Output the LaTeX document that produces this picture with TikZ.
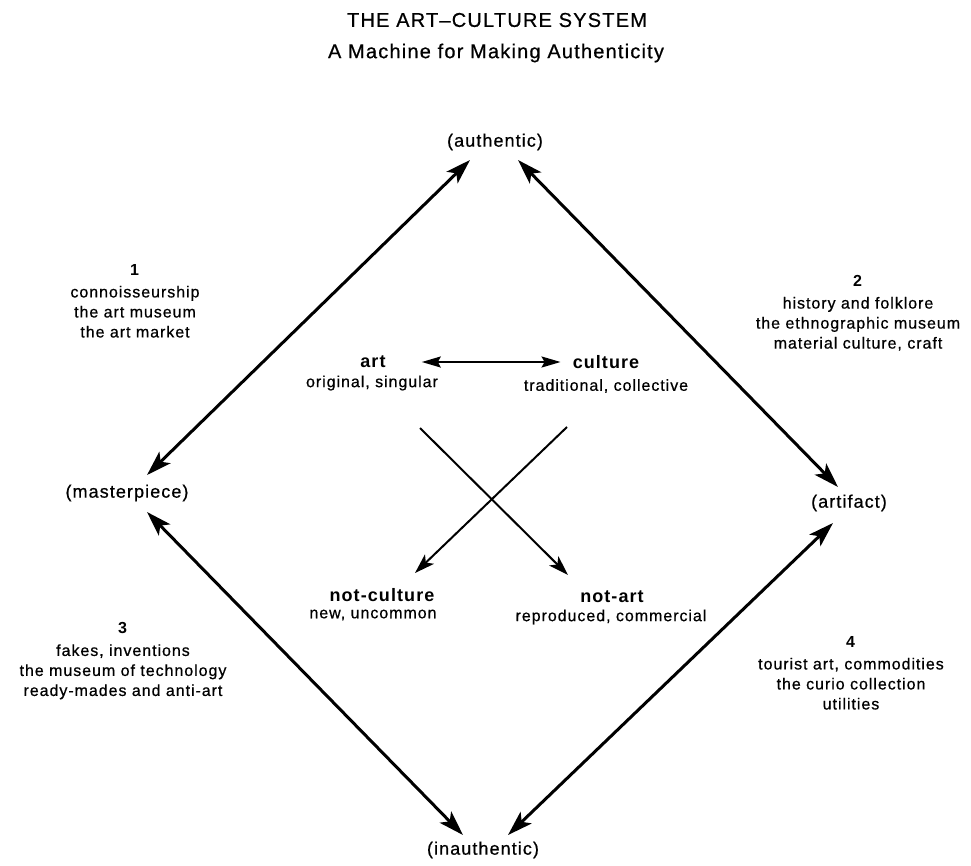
\documentclass[tikz,border=0pt]{standalone}
\usepackage{fontspec}
\setmainfont{Liberation Sans}[LetterSpace=6, UprightFeatures={FakeBold=0.6}]
\usetikzlibrary{arrows.meta,calc}
\begin{document}
\begin{tikzpicture}[x=1pt,y=-1pt,
  ttl/.style={font=\fontsize{20}{24}\selectfont, inner sep=0pt},
  corner/.style={font=\fontsize{18}{22}\selectfont, inner sep=0pt},
  quad/.style={font=\fontsize{16}{20}\selectfont, align=center, inner sep=0pt},
  pole/.style={font=\fontsize{18}{22}\selectfont\bfseries, inner sep=0pt},
  polesub/.style={font=\fontsize{16}{20}\selectfont, inner sep=0pt},
  bigarrow/.style={line width=3pt,
    {Stealth[length=25pt,width=16pt,inset=6pt]}-{Stealth[length=25pt,width=16pt,inset=6pt]}},
  crossarrow/.style={line width=2pt, -{Stealth[length=20pt,width=13pt,inset=5pt]}},
  midarrow/.style={line width=2pt,
    {Stealth[length=19pt,width=11pt,inset=3pt]}-{Stealth[length=19pt,width=11pt,inset=3pt]}}
]
\useasboundingbox (0,0) rectangle (971,865);
\fill[white] (0,0) rectangle (971,865);

% titles
\node[ttl] (title) at (497,20) {THE ART–CULTURE SYSTEM};
\node[ttl] (subtitle) at (496,53) {A Machine for Making Authenticity};

% corners
\node[corner] (authentic) at (495,142) {(authentic)};
\node[corner] (masterpiece) at (127,493) {(masterpiece)};
\node[corner] (artifact) at (849,503) {(artifact)};
\node[corner] (inauthentic) at (483,850) {(inauthentic)};

% quadrant labels
\node[quad] (q1) at (135,301) {\textbf{1}\\[2pt]connoisseurship\\the art museum\\the art market};
\node[quad] (q2) at (858,313) {\textbf{2}\\[2pt]history and folklore\\the ethnographic museum\\material culture, craft};
\node[quad] (q3) at (123,661) {\textbf{3}\\[2pt]fakes, inventions\\the museum of technology\\ready-mades and anti-art};
\node[quad] (q4) at (851,673) {\textbf{4}\\[2pt]tourist art, commodities\\the curio collection\\utilities};

% poles
\node[pole] (art) at (373,362) {art};
\node[polesub] (artsub) at (372,383) {original, singular};
\node[pole] (culture) at (606,362) {culture};
\node[polesub] (culturesub) at (606,386) {traditional, collective};
\node[pole] (notculture) at (382,595) {not-culture};
\node[polesub] (notculturesub) at (373,615) {new, uncommon};
\node[pole] (notart) at (612,597) {not-art};
\node[polesub] (notartsub) at (611,617) {reproduced, commercial};

% arrow end points tied to the nodes
\coordinate (aL) at ($(authentic)+(-25,18)$);
\coordinate (aR) at ($(authentic)+(23,18)$);
\coordinate (mU) at ($(masterpiece)+(20,-18)$);
\coordinate (mD) at ($(masterpiece)+(20,19)$);
\coordinate (fU) at ($(artifact)+(-11,-16)$);
\coordinate (fD) at ($(artifact)+(-16,20)$);
\coordinate (iL) at ($(inauthentic)+(-20,-15)$);
\coordinate (iR) at ($(inauthentic)+(25,-15)$);
\coordinate (naTip) at ($(notart)+(-44,-22)$);
\coordinate (ncTip) at ($(notculture)+(33,-22)$);
\coordinate (xa) at (420,428);
\coordinate (xc) at (567,427);

% outer diamond
\draw[bigarrow] (mU) -- (aL);
\draw[bigarrow] (aR) -- (fU);
\draw[bigarrow] (mD) -- (iL);
\draw[bigarrow] (fD) -- (iR);

% center
\draw[midarrow] ([xshift=36pt]art.east) -- ([xshift=-12pt]culture.west);
\draw[crossarrow] (xa) -- (naTip);
\draw[crossarrow] (xc) -- (ncTip);
\end{tikzpicture}
\end{document}
